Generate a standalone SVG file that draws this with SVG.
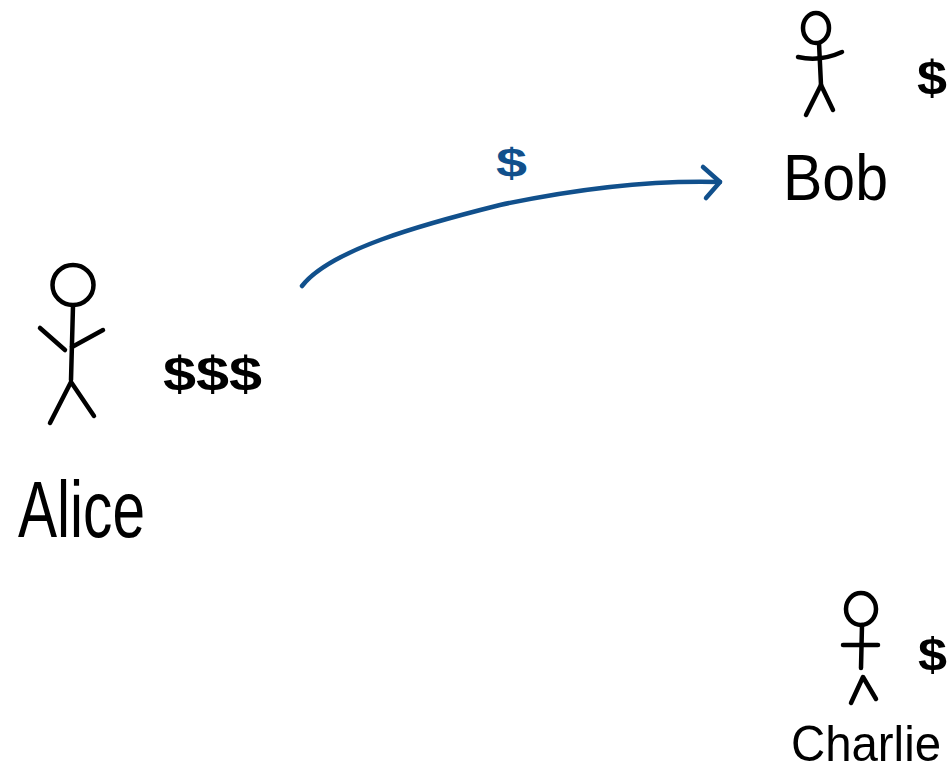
<svg xmlns="http://www.w3.org/2000/svg" width="951" height="777" viewBox="0 0 951 777">
  <style>
    .ink { fill: none; stroke: #000; stroke-width: 4.5; stroke-linecap: round; stroke-linejoin: round; }
    .name { font-family: "Liberation Sans", Arial, sans-serif; fill: #000; }
    .money { font-family: "Liberation Sans", Arial, sans-serif; font-weight: bold; fill: #000; }
    .flow { fill: none; stroke: #11508c; stroke-width: 4.5; stroke-linecap: round; stroke-linejoin: round; }
    .flow-label { font-family: "Liberation Sans", Arial, sans-serif; font-weight: bold; fill: #11508c; }
  </style>
  <rect width="951" height="777" fill="#fff"/>

  <!-- Alice: stick figure, balance and name -->
  <g id="alice">
    <ellipse class="ink" cx="73" cy="285" rx="20.5" ry="20"/>
    <path class="ink" d="M73 306 L71 380"/>
    <path class="ink" d="M40 328 L65 350"/>
    <path class="ink" d="M72 347 L103 330"/>
    <path class="ink" d="M71 382 L50 423 M71 382 L94 416"/>
    <text class="money" x="163" y="390" font-size="48" textLength="99" lengthAdjust="spacingAndGlyphs">$$$</text>
    <text class="name" x="18" y="537" font-size="80" textLength="127" lengthAdjust="spacingAndGlyphs">Alice</text>
  </g>

  <!-- Bob: stick figure, balance and name -->
  <g id="bob">
    <ellipse class="ink" cx="816" cy="28" rx="13" ry="15"/>
    <path class="ink" d="M819 43 L821 85"/>
    <path class="ink" d="M798 57 Q820 62 842 52"/>
    <path class="ink" d="M821 85 L806 115 M821 85 L833 110"/>
    <text class="money" x="917" y="94" font-size="48" textLength="30" lengthAdjust="spacingAndGlyphs">$</text>
    <text class="name" x="783" y="200" font-size="64" textLength="105" lengthAdjust="spacingAndGlyphs">Bob</text>
  </g>

  <!-- Charlie: stick figure, balance and name -->
  <g id="charlie">
    <ellipse class="ink" cx="861" cy="609" rx="15" ry="16"/>
    <path class="ink" d="M862 625 L861 668"/>
    <path class="ink" d="M843 645 L878 645"/>
    <path class="ink" d="M851 703 L863 677 L876 699"/>
    <text class="money" x="918" y="671" font-size="46" textLength="29" lengthAdjust="spacingAndGlyphs">$</text>
    <text class="name" x="791" y="761" font-size="50" textLength="150" lengthAdjust="spacingAndGlyphs">Charlie</text>
  </g>

  <!-- Payment from Alice to Bob -->
  <g id="connectors">
    <path class="flow" d="M302 286 C330 250 420 225 500 205 C580 188 650 180 720 182"/>
    <path class="flow" d="M703 167 L720 182 L706 198"/>
    <text class="flow-label" x="496" y="177" font-size="40" textLength="31" lengthAdjust="spacingAndGlyphs">$</text>
  </g>
</svg>
